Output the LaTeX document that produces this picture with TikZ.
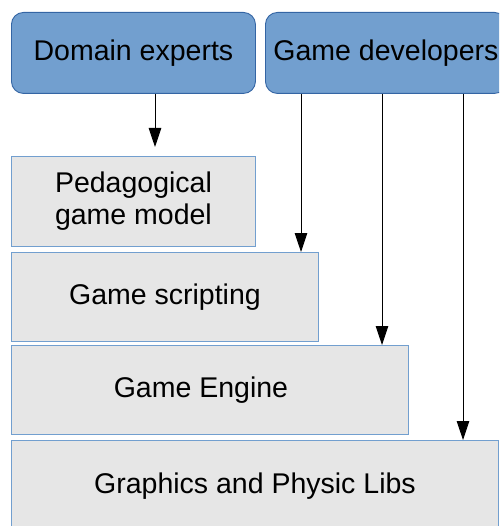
\documentclass[tikz,border=0pt]{standalone}
\usepackage{fontspec}
\setmainfont{Liberation Sans}
\usetikzlibrary{arrows.meta}

\definecolor{actorfill}{HTML}{729FCF}
\definecolor{actorline}{HTML}{3465A4}
\definecolor{layerfill}{HTML}{E6E6E6}
\definecolor{layerline}{HTML}{729FCF}

\begin{document}
\begin{tikzpicture}[
			x=1pt, y=-1pt,
			% Define styles for nodes
			every node/.style={anchor=north west, inner sep=0pt, align=center,
					font=\fontsize{28.5}{32}\selectfont},
			actor/.style={draw=actorline, fill=actorfill, line width=0.9pt,
					rounded corners=12pt, minimum width=244pt, minimum height=81pt},
			layer/.style={draw=layerline, fill=layerfill, line width=0.9pt,
					minimum height=90pt},
			flow/.style={draw=black, line width=0.9pt, -{Triangle[length=19pt, width=12.5pt]}}
		]
		\clip (0,0) rectangle (499,526);

		% Who works on it
		\node[actor] (domain) at (11,12) {Domain experts};
		\node[actor, minimum width=241pt] (dev) at (265,12) {Game developers};

		% Layers
		\node[layer, minimum width=244pt] (model) at (11,156) {Pedagogical\\game model};
		\node[layer, minimum width=307pt, minimum height=89pt] (scripting) at (11,252) {Game scripting};
		\node[layer, minimum width=397pt, minimum height=89pt] (engine) at (11,345) {\hspace*{-18pt}\raisebox{4pt}{Game Engine}};
		\node[layer, minimum width=487pt, minimum height=91pt] (libs) at (11,440) {Graphics and Physic Libs};

		% Arrows
		\draw[flow, shorten >=9pt] ([xshift=144pt]domain.south west) coordinate (d0) -- (d0 |- model.north);
		\draw[flow] ([xshift=36pt]dev.south west) coordinate (g1) -- (g1 |- scripting.north);
		\draw[flow] ([xshift=117pt]dev.south west) coordinate (g2) -- (g2 |- engine.north);
		\draw[flow] ([xshift=198pt]dev.south west) coordinate (g3) -- (g3 |- libs.north);
	\end{tikzpicture}
\end{document}
